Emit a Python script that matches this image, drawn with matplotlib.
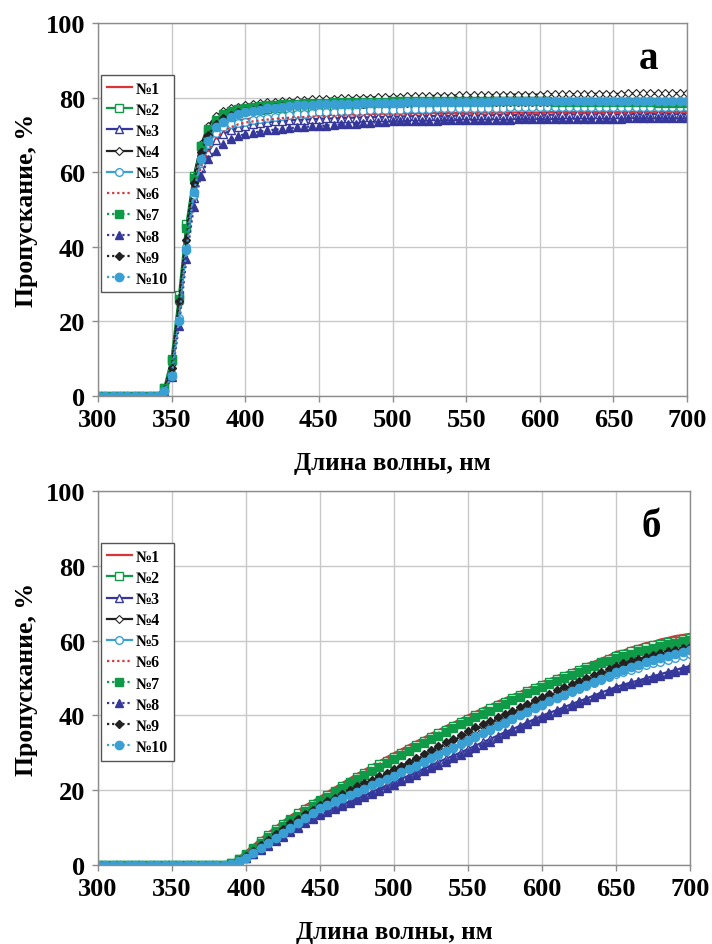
import numpy as np
import matplotlib.pyplot as plt

plt.rcParams['font.family'] = ['Liberation Serif', 'DejaVu Serif']
plt.rcParams['font.weight'] = 'bold'

wavelength = np.arange(300, 701, 5)
labels = ["№1", "№2", "№3", "№4", "№5", "№6", "№7", "№8", "№9", "№10"]
x_ticks = [300, 350, 400, 450, 500, 550, 600, 650, 700]
y_ticks = [0, 20, 40, 60, 80, 100]

# panel a, 300..700 nm every 5 nm
a1 = [0, 0, 0, 0, 0, 0, 0, 0, 0,
      1.5, 8.0, 24.0, 43.0, 56.0, 64.0, 68.5, 71.0, 72.5, 73.3, 73.8, 74.2,
      74.4, 74.6, 74.7, 74.8, 74.9, 75.0, 75.0, 75.1, 75.2, 75.3,
      75.3, 75.4, 75.4, 75.5, 75.5, 75.6, 75.6, 75.6, 75.7, 75.7,
      75.7, 75.8, 75.8, 75.8, 75.9, 75.9, 75.9, 75.9, 75.9, 75.9,
      76.0, 76.0, 76.0, 76.0, 76.0, 76.0, 76.0, 76.0, 76.0, 76.0,
      76.1, 76.1, 76.1, 76.1, 76.1, 76.1, 76.1, 76.1, 76.1, 76.1,
      76.1, 76.1, 76.2, 76.2, 76.2, 76.2, 76.2, 76.2, 76.2, 76.2]
a2 = [0, 0, 0, 0, 0, 0, 0, 0, 0,
      2.2, 10.0, 27.0, 46.0, 59.0, 67.0, 71.0, 73.0, 74.5, 75.3, 75.9, 76.3,
      76.6, 76.8, 77.0, 77.1, 77.2, 77.3, 77.4, 77.4, 77.5, 77.5,
      77.6, 77.6, 77.6, 77.7, 77.7, 77.7, 77.7, 77.8, 77.8, 77.8,
      77.8, 77.8, 77.9, 77.9, 77.9, 77.9, 77.9, 77.9, 77.9, 77.9,
      78.0, 78.0, 78.0, 78.0, 78.0, 78.0, 78.0, 78.0, 78.0, 78.0,
      78.0, 78.0, 78.0, 78.0, 78.0, 78.0, 78.0, 78.0, 78.0, 78.0,
      78.0, 78.0, 78.0, 78.0, 78.0, 78.0, 78.0, 78.0, 78.0, 78.0]
a3 = [0, 0, 0, 0, 0, 0, 0, 0, 0,
      1.2, 6.5, 21.0, 40.0, 53.0, 61.0, 65.5, 68.5, 70.2, 71.2, 72.0, 72.5,
      72.9, 73.2, 73.4, 73.6, 73.7, 73.9, 74.0, 74.1, 74.2, 74.3,
      74.4, 74.4, 74.5, 74.6, 74.6, 74.7, 74.7, 74.8, 74.8, 74.9,
      74.9, 75.0, 75.0, 75.0, 75.1, 75.1, 75.1, 75.1, 75.2, 75.2,
      75.2, 75.2, 75.3, 75.3, 75.3, 75.3, 75.3, 75.4, 75.4, 75.4,
      75.4, 75.4, 75.5, 75.5, 75.5, 75.5, 75.5, 75.5, 75.5, 75.5,
      75.5, 75.5, 75.6, 75.6, 75.6, 75.6, 75.6, 75.6, 75.6, 75.6]
a4 = [0, 0, 0, 0, 0, 0, 0, 0, 0,
      1.8, 8.5, 25.0, 44.5, 58.5, 67.5, 72.5, 75.0, 76.3, 77.1, 77.6, 78.0,
      78.3, 78.5, 78.7, 78.9, 79.0, 79.2, 79.3, 79.4, 79.5, 79.6,
      79.7, 79.7, 79.8, 79.9, 79.9, 80.0, 80.0, 80.1, 80.1, 80.2,
      80.2, 80.3, 80.3, 80.4, 80.4, 80.5, 80.5, 80.5, 80.6, 80.6,
      80.6, 80.7, 80.7, 80.7, 80.7, 80.8, 80.8, 80.8, 80.8, 80.8,
      80.9, 80.9, 80.9, 80.9, 80.9, 81.0, 81.0, 81.0, 81.0, 81.0,
      81.0, 81.1, 81.1, 81.1, 81.1, 81.1, 81.2, 81.2, 81.2, 81.2]
a5 = [0, 0, 0, 0, 0, 0, 0, 0, 0,
      1.0, 6.0, 21.0, 40.0, 54.0, 62.5, 67.5, 70.5, 72.0, 72.8, 73.2, 73.5,
      73.9, 74.2, 74.5, 74.8, 75.0, 75.3, 75.5, 75.7, 75.9, 76.0,
      76.1, 76.2, 76.3, 76.4, 76.5, 76.5, 76.6, 76.7, 76.7, 76.8,
      76.8, 76.9, 76.9, 77.0, 77.0, 77.1, 77.1, 77.1, 77.2, 77.2,
      77.2, 77.3, 77.3, 77.3, 77.3, 77.4, 77.4, 77.4, 77.4, 77.4,
      77.4, 77.5, 77.5, 77.5, 77.5, 77.5, 77.5, 77.5, 77.5, 77.5,
      77.5, 77.6, 77.6, 77.6, 77.6, 77.6, 77.6, 77.6, 77.6, 77.6]
a6 = [0, 0, 0, 0, 0, 0, 0, 0, 0,
      1.2, 7.0, 22.0, 40.5, 54.0, 61.5, 66.0, 69.0, 70.8, 72.0, 72.8, 73.3,
      73.6, 73.9, 74.1, 74.3, 74.5, 74.6, 74.7, 74.8, 74.9, 75.0,
      75.0, 75.1, 75.1, 75.2, 75.2, 75.3, 75.3, 75.3, 75.4, 75.4,
      75.4, 75.4, 75.5, 75.5, 75.5, 75.5, 75.5, 75.6, 75.6, 75.6,
      75.6, 75.6, 75.6, 75.7, 75.7, 75.7, 75.7, 75.7, 75.7, 75.7,
      75.8, 75.8, 75.8, 75.8, 75.8, 75.8, 75.8, 75.8, 75.8, 75.8,
      75.8, 75.8, 75.9, 75.9, 75.9, 75.9, 75.9, 75.9, 75.9, 75.9]
a7 = [0, 0, 0, 0, 0, 0, 0, 0, 0,
      2.0, 9.5, 26.0, 45.0, 58.5, 67.0, 71.5, 74.0, 75.5, 76.3, 76.9, 77.3,
      77.6, 77.8, 78.0, 78.1, 78.2, 78.3, 78.4, 78.5, 78.5, 78.6,
      78.6, 78.7, 78.7, 78.8, 78.8, 78.8, 78.9, 78.9, 78.9, 79.0,
      79.0, 79.0, 79.0, 79.0, 79.1, 79.1, 79.1, 79.1, 79.1, 79.1,
      79.1, 79.1, 79.1, 79.1, 79.1, 79.0, 79.0, 79.0, 79.0, 79.0,
      79.0, 78.9, 78.9, 78.9, 78.9, 78.8, 78.8, 78.8, 78.8, 78.8,
      78.7, 78.7, 78.7, 78.7, 78.7, 78.6, 78.6, 78.6, 78.6, 78.6]
a8 = [0, 0, 0, 0, 0, 0, 0, 0, 0,
      0.8, 5.0, 18.8, 36.7, 50.6, 59.1, 63.5, 65.8, 67.6, 68.9, 69.7, 70.2,
      70.6, 70.9, 71.2, 71.4, 71.6, 71.8, 72.0, 72.1, 72.3, 72.4,
      72.5, 72.7, 72.8, 72.9, 73.0, 73.1, 73.2, 73.4, 73.5, 73.6,
      73.6, 73.7, 73.7, 73.8, 73.8, 73.8, 73.9, 73.9, 74.0, 74.0,
      74.0, 74.0, 74.1, 74.1, 74.1, 74.1, 74.2, 74.2, 74.2, 74.2,
      74.2, 74.2, 74.3, 74.3, 74.3, 74.3, 74.3, 74.3, 74.3, 74.3,
      74.3, 74.4, 74.4, 74.4, 74.4, 74.4, 74.4, 74.4, 74.4, 74.4]
a9 = [0, 0, 0, 0, 0, 0, 0, 0, 0,
      1.5, 7.5, 25.5, 41.7, 57.0, 65.5, 70.0, 72.8, 74.4, 75.4, 76.0, 76.5,
      76.8, 77.1, 77.3, 77.5, 77.7, 77.8, 77.9, 78.0, 78.1, 78.2,
      78.2, 78.3, 78.3, 78.4, 78.4, 78.4, 78.5, 78.5, 78.6, 78.6,
      78.6, 78.6, 78.7, 78.7, 78.7, 78.7, 78.8, 78.8, 78.8, 78.8,
      78.8, 78.8, 78.9, 78.9, 78.9, 78.9, 78.9, 78.9, 78.9, 78.9,
      78.9, 79.0, 79.0, 79.0, 79.0, 79.0, 79.0, 79.0, 79.0, 79.0,
      79.0, 79.0, 79.0, 79.0, 79.0, 79.0, 79.0, 79.0, 79.0, 79.0]
a10 = [0, 0, 0, 0, 0, 0, 0, 0, 0,
       1.3, 5.4, 20.2, 39.0, 54.6, 63.5, 68.4, 72.0, 73.4, 74.7, 75.5, 76.0,
       76.4, 76.8, 77.1, 77.3, 77.5, 77.7, 77.9, 78.0, 78.1, 78.2,
       78.2, 78.3, 78.3, 78.4, 78.4, 78.5, 78.5, 78.5, 78.6, 78.6,
       78.6, 78.7, 78.7, 78.7, 78.8, 78.8, 78.8, 78.8, 78.9, 78.9,
       78.9, 78.9, 78.9, 79.0, 79.0, 79.0, 79.0, 79.0, 79.0, 79.0,
       79.1, 79.1, 79.1, 79.1, 79.1, 79.1, 79.1, 79.1, 79.1, 79.1,
       79.1, 79.1, 79.2, 79.2, 79.2, 79.2, 79.2, 79.2, 79.2, 79.2]

# panel b, 300..700 nm every 5 nm
b1 = [0, 0, 0, 0, 0, 0, 0, 0, 0, 0, 0, 0, 0, 0, 0, 0, 0,
      0, 0.8, 2.0, 3.6, 5.3, 7.0, 8.6, 10.2, 11.7, 13.1,
      14.5, 15.9, 17.0, 18.2, 19.5, 20.7, 21.9, 23.1, 24.3, 25.4,
      26.6, 27.7, 28.8, 29.9, 30.9, 32.0, 33.0, 34.0, 35.1, 36.0,
      37.1, 38.0, 39.0, 40.0, 40.9, 41.9, 42.7, 43.7, 44.5, 45.4,
      46.2, 47.2, 48.0, 48.9, 49.6, 50.5, 51.2, 52.1, 52.8, 53.7,
      54.3, 55.2, 55.9, 57.0, 57.3, 58.1, 58.6, 59.3, 59.6, 60.3,
      60.7, 61.2, 61.5, 61.8]
b2 = [0, 0, 0, 0, 0, 0, 0, 0, 0, 0, 0, 0, 0, 0, 0, 0, 0,
      0, 0.6, 1.6, 3.0, 4.6, 6.3, 7.9, 9.5, 11.0, 12.4,
      13.8, 15.0, 16.2, 17.4, 18.7, 19.9, 21.1, 22.3, 23.5, 24.6,
      25.8, 26.9, 27.9, 29.0, 30.0, 31.1, 32.1, 33.1, 34.1, 35.2,
      36.1, 37.1, 38.1, 39.1, 40.0, 41.0, 41.9, 42.8, 43.7, 44.6,
      45.5, 46.4, 47.3, 48.2, 49.0, 49.8, 50.6, 51.4, 52.2, 53.0,
      53.6, 54.4, 55.1, 55.9, 56.5, 57.1, 57.7, 58.2, 58.7, 59.2,
      59.6, 60.0, 60.3, 60.6]
b3 = [0, 0, 0, 0, 0, 0, 0, 0, 0, 0, 0, 0, 0, 0, 0, 0, 0,
      0, 0.3, 0.9, 1.9, 3.0, 4.2, 5.4, 6.6, 7.8, 9.0,
      10.2, 11.4, 12.6, 13.8, 14.6, 15.4, 16.2, 17.0, 17.8, 18.7,
      19.5, 20.4, 21.3, 22.2, 23.1, 23.9, 24.8, 25.7, 26.6, 27.5,
      28.4, 29.2, 30.1, 31.0, 31.9, 32.8, 33.7, 34.6, 35.5, 36.3,
      37.2, 38.1, 39.0, 39.9, 40.7, 41.4, 42.2, 43.0, 43.8, 44.5,
      45.3, 46.1, 46.8, 47.6, 48.2, 48.8, 49.3, 49.9, 50.5, 51.0,
      51.6, 52.1, 52.7, 53.2]
b4 = [0, 0, 0, 0, 0, 0, 0, 0, 0, 0, 0, 0, 0, 0, 0, 0, 0,
      0, 0.4, 1.2, 2.3, 3.7, 5.1, 6.6, 8.0, 9.4, 10.8,
      12.0, 13.2, 14.4, 15.6, 16.6, 17.6, 18.6, 19.6, 20.6, 21.5,
      22.4, 23.3, 24.3, 25.2, 26.2, 27.2, 28.2, 29.2, 30.2, 31.3,
      32.3, 33.3, 34.3, 35.3, 36.2, 37.1, 38.0, 38.9, 39.9, 40.8,
      41.7, 42.6, 43.6, 44.5, 45.3, 46.1, 47.0, 47.8, 48.6, 49.4,
      50.2, 51.0, 51.8, 52.6, 53.2, 53.7, 54.2, 54.7, 55.2, 55.7,
      56.2, 56.6, 57.0, 57.4]
b5 = [0, 0, 0, 0, 0, 0, 0, 0, 0, 0, 0, 0, 0, 0, 0, 0, 0,
      0, 0.3, 0.9, 1.9, 3.2, 4.5, 5.8, 7.1, 8.4, 9.7,
      11.0, 12.3, 13.6, 14.8, 15.8, 16.7, 17.6, 18.6, 19.5, 20.4,
      21.3, 22.2, 23.1, 24.0, 24.9, 25.9, 26.8, 27.8, 28.7, 29.7,
      30.6, 31.6, 32.5, 33.5, 34.5, 35.4, 36.4, 37.3, 38.3, 39.2,
      40.2, 41.1, 42.1, 43.0, 43.8, 44.6, 45.4, 46.2, 47.0, 47.8,
      48.6, 49.4, 50.2, 51.0, 51.6, 52.2, 52.8, 53.4, 53.9, 54.4,
      54.9, 55.4, 55.9, 56.3]
b6 = [0, 0, 0, 0, 0, 0, 0, 0, 0, 0, 0, 0, 0, 0, 0, 0, 0,
      0, 0.6, 1.7, 3.2, 4.8, 6.5, 8.1, 9.6, 11.1, 12.5,
      13.9, 15.2, 16.4, 17.6, 18.9, 20.1, 21.3, 22.5, 23.7, 24.8,
      26.0, 27.0, 28.1, 29.2, 30.2, 31.3, 32.3, 33.3, 34.3, 35.3,
      36.3, 37.3, 38.2, 39.2, 40.2, 41.1, 42.0, 42.9, 43.8, 44.7,
      45.5, 46.4, 47.2, 48.1, 48.9, 49.7, 50.5, 51.3, 52.0, 52.8,
      53.5, 54.2, 54.9, 55.7, 56.3, 57.0, 57.6, 58.2, 58.8, 59.3,
      59.8, 60.3, 60.7, 61.1]
b7 = [0, 0, 0, 0, 0, 0, 0, 0, 0, 0, 0, 0, 0, 0, 0, 0, 0,
      0, 0.5, 1.5, 2.8, 4.3, 5.9, 7.5, 9.0, 10.5, 11.9,
      13.2, 14.5, 15.8, 17.0, 18.2, 19.4, 20.6, 21.8, 22.9, 24.0,
      25.1, 26.2, 27.3, 28.3, 29.4, 30.4, 31.5, 32.5, 33.6, 34.6,
      35.6, 36.6, 37.6, 38.6, 39.5, 40.4, 41.3, 42.2, 43.1, 44.1,
      45.0, 45.9, 46.8, 47.7, 48.5, 49.3, 50.1, 50.9, 51.6, 52.4,
      53.1, 53.9, 54.6, 55.3, 55.9, 56.5, 57.1, 57.6, 58.1, 58.6,
      59.0, 59.4, 59.8, 60.1]
b8 = [0, 0, 0, 0, 0, 0, 0, 0, 0, 0, 0, 0, 0, 0, 0, 0, 0,
      0, 0.3, 0.8, 1.8, 2.9, 4.0, 5.2, 6.4, 7.5, 8.7,
      9.9, 11.1, 12.2, 13.4, 14.2, 15.0, 15.8, 16.6, 17.4, 18.2,
      19.0, 19.9, 20.7, 21.5, 22.4, 23.3, 24.1, 25.0, 25.9, 26.8,
      27.6, 28.5, 29.4, 30.3, 31.2, 32.1, 33.0, 33.9, 34.9, 35.8,
      36.7, 37.6, 38.5, 39.4, 40.2, 41.0, 41.7, 42.5, 43.3, 44.1,
      44.8, 45.6, 46.4, 47.2, 47.8, 48.3, 48.9, 49.4, 50.0, 50.5,
      51.1, 51.6, 52.2, 52.7]
b9 = [0, 0, 0, 0, 0, 0, 0, 0, 0, 0, 0, 0, 0, 0, 0, 0, 0,
      0, 0.4, 1.3, 2.4, 3.8, 5.3, 6.8, 8.3, 9.7, 11.1,
      12.4, 13.6, 14.8, 16.0, 17.0, 18.0, 19.0, 20.0, 21.0, 21.9,
      22.8, 23.8, 24.7, 25.6, 26.6, 27.6, 28.6, 29.7, 30.7, 31.7,
      32.8, 33.8, 34.8, 35.8, 36.8, 37.7, 38.6, 39.5, 40.4, 41.3,
      42.2, 43.1, 44.1, 45.0, 45.8, 46.7, 47.5, 48.4, 49.2, 50.0,
      50.9, 51.7, 52.5, 53.3, 53.9, 54.5, 55.1, 55.6, 56.1, 56.6,
      57.1, 57.5, 57.9, 58.3]
b10 = [0, 0, 0, 0, 0, 0, 0, 0, 0, 0, 0, 0, 0, 0, 0, 0, 0,
       0, 0.4, 1.0, 2.0, 3.3, 4.6, 5.9, 7.3, 8.6, 10.0,
       11.3, 12.6, 13.9, 15.2, 16.1, 17.0, 17.8, 18.7, 19.6, 20.4,
       21.3, 22.2, 23.0, 23.9, 24.8, 25.7, 26.6, 27.6, 28.5, 29.4,
       30.4, 31.3, 32.3, 33.2, 34.2, 35.2, 36.1, 37.1, 38.0, 39.0,
       40.0, 40.9, 41.9, 42.9, 43.8, 44.6, 45.5, 46.4, 47.2, 48.1,
       48.9, 49.8, 50.6, 51.5, 52.2, 52.9, 53.5, 54.2, 54.8, 55.4,
       55.9, 56.4, 56.9, 57.4]

series_a = [a1, a2, a3, a4, a5, a6, a7, a8, a9, a10]
series_b = [b1, b2, b3, b4, b5, b6, b7, b8, b9, b10]

red = "#d8343a"
green = "#0f9a48"
blue = "#35379a"
black = "#222222"
lblue = "#3a9fd3"
dotted = (0, (1, 1.3))
styles = [
    dict(color=red, ls="-", marker=None),
    dict(color=green, ls="-", marker="s", ms=5.5, mfc="white", mec=green),
    dict(color=blue, ls="-", marker="^", ms=5.5, mfc="white", mec=blue),
    dict(color=black, ls="-", marker="D", ms=4, mfc="white", mec=black, mew=0.8),
    dict(color=lblue, ls="-", marker="o", ms=5.5, mfc="white", mec=lblue),
    dict(color=red, ls=dotted, marker=None),
    dict(color=green, ls=dotted, marker="s", ms=5.5, mfc=green, mec=green),
    dict(color=blue, ls=dotted, marker="^", ms=6, mfc=blue, mec=blue),
    dict(color=black, ls=dotted, marker="D", ms=4, mfc=black, mec=black),
    dict(color=lblue, ls=dotted, marker="o", ms=6, mfc=lblue, mec=lblue),
]

fig = plt.figure(figsize=(7.12, 9.45), dpi=100)
ax_a = fig.add_axes([0.1376, 0.580, 0.8274, 0.3946])
ax_b = fig.add_axes([0.1376, 0.0836, 0.8315, 0.3958])

for ax, data, letter in [(ax_a, series_a, "а"), (ax_b, series_b, "б")]:
    for vals, lab, st in zip(data, labels, styles):
        ax.plot(wavelength, vals, lw=1.6, label=lab, **st)
    ax.set_xlim(300, 700)
    ax.set_ylim(0, 100)
    ax.set_xticks(x_ticks)
    ax.set_yticks(y_ticks)
    ax.grid(True, color="#c8c8c8", lw=1)
    ax.set_axisbelow(True)
    for sp in ax.spines.values():
        sp.set_color("#8c8c8c")
        sp.set_linewidth(1)
    ax.tick_params(direction="out", length=4, width=1, color="#8c8c8c",
                   labelsize=19, pad=5)
    for t in ax.get_xticklabels() + ax.get_yticklabels():
        t.set_fontweight("bold")
    ax.set_xlabel("Длина волны, нм", fontsize=18, fontweight="bold", labelpad=14)
    ax.set_ylabel("Пропускание, %", fontsize=18.5, fontweight="bold", labelpad=6)
    ax.text(0.935, 0.905, letter, transform=ax.transAxes, fontsize=28,
            fontweight="bold", ha="center", va="center")
    leg = ax.legend(loc="upper left", bbox_to_anchor=(0.005, 0.86),
                    borderaxespad=0, fancybox=False, framealpha=1,
                    edgecolor="#555555", numpoints=1, handlelength=1.6,
                    handletextpad=0.25, labelspacing=0.32, borderpad=0.35,
                    prop=dict(size=11.5, weight="bold"))
    leg.get_frame().set_linewidth(1)

plt.savefig("out.png", dpi=100)
